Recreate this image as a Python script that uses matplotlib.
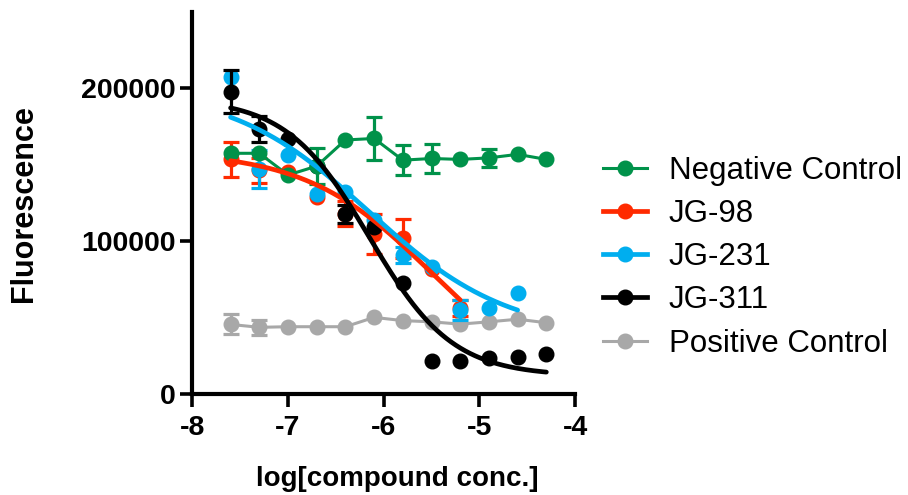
import numpy as np
import matplotlib
matplotlib.use("Agg")
import matplotlib.pyplot as plt
from matplotlib.lines import Line2D

plt.rcParams['font.family'] = ['Liberation Sans', 'DejaVu Sans']

# ---- data ----
log_conc = [-7.6, -7.3, -7.0, -6.7, -6.4, -6.1, -5.8, -5.5, -5.2, -4.9, -4.6, -4.3]

neg_ctrl = [157600, 157600, 143400, 149200, 166300, 167300, 153100, 154200, 153600, 154600, 156900, 153600]
neg_err = [0, 0, 0, 11600, 0, 14000, 10000, 9500, 0, 6000, 0, 0]

pos_ctrl = [45700, 43800, 44200, 44200, 44200, 50300, 48200, 47400, 45900, 47400, 49100, 46800]
pos_err = [6500, 5000, 0, 0, 0, 0, 0, 0, 0, 0, 0, 0]

jg98 = [153600, 146500, 145500, 129300, 118200, 105000, 101900, 81700, 56400]
jg98_err = [11500, 8000, 0, 0, 8000, 13000, 12500, 0, 5000]

jg231 = [207200, 147500, 156400, 131300, 132400, 113900, 91100, 83400, 55100, 56300, 66400]
jg231_err = [0, 12500, 0, 0, 0, 0, 5000, 0, 6500, 0, 0]

jg311 = [197800, 173300, 166900, 149200, 118000, 109500, 73000, 22000, 21800, 23500, 24500, 26200]
jg311_err = [14000, 8500, 0, 0, 5700, 0, 0, 0, 0, 0, 0, 0]

# 4-parameter logistic fit parameters: top, bottom, logIC50, hill slope
fit_jg98 = [159000, 0, -5.5, 0.66]
fit_jg231 = [200500, 38000, -6.15, 0.6]
fit_jg311 = [193500, 12000, -6.15, 1.0]

labels = ["Negative Control", "JG-98", "JG-231", "JG-311", "Positive Control"]
colors = ["#00924A", "#FF2A00", "#00AEEF", "#000000", "#A8A8A8"]

x_ticks = [-8, -7, -6, -5, -4]
y_ticks = [0, 100000, 200000]


def logistic(x, p):
    top, bottom, c, h = p
    return bottom + (top - bottom) / (1 + 10 ** ((x - c) * h))


fig = plt.figure(figsize=(9.08, 4.95), dpi=100)
ax = fig.add_axes([0.2118, 0.2034, 0.4215, 0.7724])

MS = 10.5
CAP = 5.8
ELW = 2.3


def draw_err(x, y, e, color, z):
    x = np.asarray(x); y = np.asarray(y); e = np.asarray(e, dtype=float)
    m = e > 0
    if m.any():
        ax.errorbar(x[m], y[m], yerr=e[m], fmt='none', ecolor=color,
                    elinewidth=ELW, capsize=CAP, capthick=ELW, zorder=z)


xs = np.array(log_conc)

# Positive control (connected)
draw_err(xs, pos_ctrl, pos_err, colors[4], 1)
ax.plot(xs, pos_ctrl, '-o', color=colors[4], lw=2.2, ms=MS, zorder=1.5)

# Fitted compounds: points and error bars
fits = [(jg98, jg98_err, fit_jg98), (jg231, jg231_err, fit_jg231), (jg311, jg311_err, fit_jg311)]
for i, (vals, errs, fp) in enumerate(fits):
    col = colors[i + 1]
    z = 2 + i * 0.3
    xv = xs[:len(vals)]
    draw_err(xv, vals, errs, col, z)
    ax.plot(xv, vals, 'o', color=col, ms=MS, zorder=z + 0.1, lw=0)

# Negative control (connected)
draw_err(xs, neg_ctrl, neg_err, colors[0], 3.5)
ax.plot(xs, neg_ctrl, '-o', color=colors[0], lw=2.2, ms=MS, zorder=3.6)

# Fitted curves on top
for i, (vals, errs, fp) in enumerate(fits):
    col = colors[i + 1]
    xv = xs[:len(vals)]
    xf = np.linspace(xv[0], xv[-1], 200)
    ax.plot(xf, logistic(xf, fp), '-', color=col, lw=3.4, zorder=4 + i,
            solid_capstyle='round')

ax.set_xlim(-8, -4)
ax.set_ylim(0, 250000)
ax.set_xticks(x_ticks)
ax.set_xticklabels([str(t) for t in x_ticks])
ax.set_yticks(y_ticks)
ax.set_yticklabels([str(t) for t in y_ticks])

for s in ['top', 'right']:
    ax.spines[s].set_visible(False)
for s in ['left', 'bottom']:
    ax.spines[s].set_linewidth(3.0)
    ax.spines[s].set_capstyle('projecting')

ax.tick_params(axis='both', width=2.6, length=9, labelsize=20.5, direction='out')
ax.tick_params(axis='y', pad=3)
ax.tick_params(axis='x', pad=6)
for lab in ax.get_xticklabels() + ax.get_yticklabels():
    lab.set_fontweight('bold')

ax.set_xlabel("log[compound conc.]", fontsize=20, fontweight='bold')
ax.xaxis.set_label_coords(0.536, -0.187, transform=ax.transAxes)
ax.set_ylabel("Fluorescence", fontsize=22, fontweight='bold')
ax.yaxis.set_label_coords(-0.400, 0.5, transform=ax.transAxes)

handles = [
    Line2D([], [], color=colors[0], lw=2.2, marker='o', ms=MS),
    Line2D([], [], color=colors[1], lw=3.4, marker='o', ms=MS),
    Line2D([], [], color=colors[2], lw=3.4, marker='o', ms=MS),
    Line2D([], [], color=colors[3], lw=3.4, marker='o', ms=MS),
    Line2D([], [], color=colors[4], lw=2.2, marker='o', ms=MS),
]
fig.legend(handles, labels, loc='upper left', bbox_to_anchor=(603 / 908, 1 - 156 / 495),
           frameon=False, fontsize=22.5, handlelength=1.42, handletextpad=0.68,
           labelspacing=0.42, borderpad=0, borderaxespad=0)

fig.savefig("out.png", dpi=100)
